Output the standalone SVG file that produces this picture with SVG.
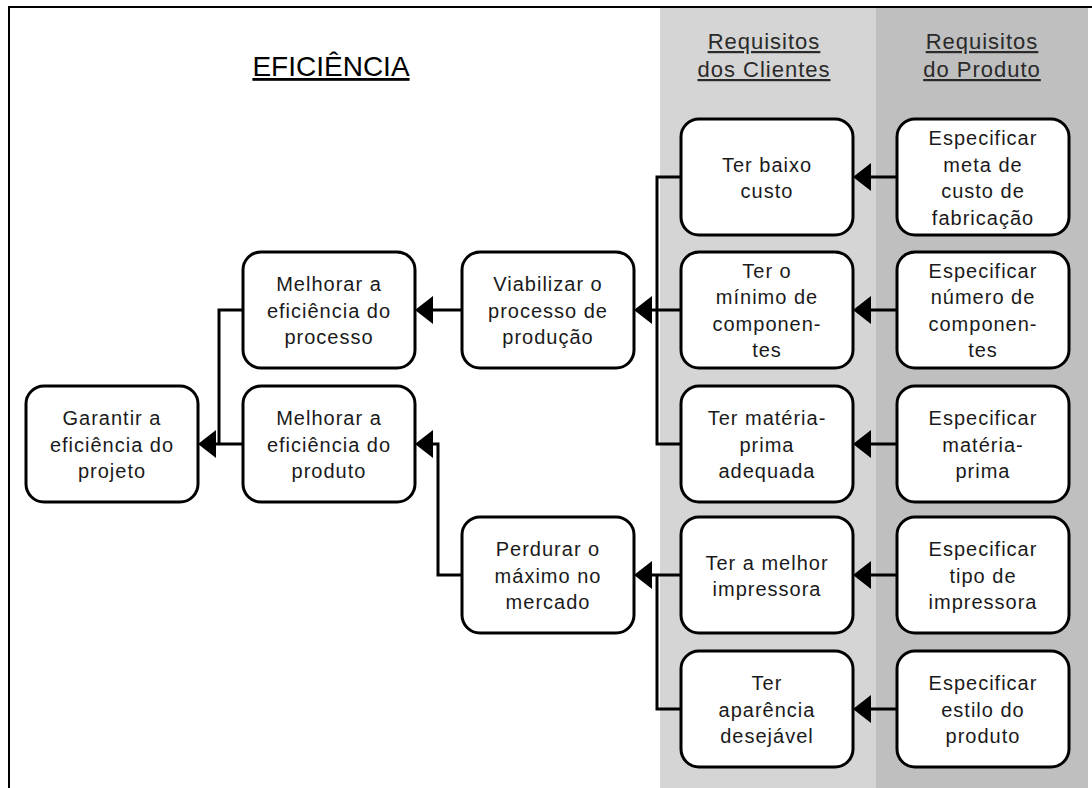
<svg xmlns="http://www.w3.org/2000/svg" width="1092" height="788" viewBox="0 0 1092 788">
  <style>
    .box { fill: #ffffff; stroke: #000000; stroke-width: 3; }
    .lbl { font-family: "Liberation Sans", Arial, sans-serif; font-size: 20px; letter-spacing: 1px; fill: #1a1a1a; text-anchor: middle; }
    .hdr { font-family: "Liberation Sans", Arial, sans-serif; font-size: 22px; letter-spacing: 1px; fill: #2a2a2a; text-anchor: middle; text-decoration: underline; }
    .title { font-family: "Liberation Sans", Arial, sans-serif; font-size: 28px; fill: #000000; text-anchor: middle; text-decoration: underline; }
    .wire { fill: none; stroke: #000000; stroke-width: 3; }
    .arrow { marker-end: url(#head); }
  </style>
  <defs>
    <marker id="head" viewBox="0 0 18 28" refX="10" refY="14" markerWidth="18" markerHeight="28" markerUnits="userSpaceOnUse" orient="auto">
      <path d="M0,0 L18,14 L0,28 Z" fill="#000000"/>
    </marker>
  </defs>

  <!-- page background and column bands -->
  <rect x="0" y="0" width="1092" height="788" fill="#ffffff"/>
  <rect x="660" y="8" width="216" height="780" fill="#d5d5d5"/>
  <rect x="876" y="8" width="212" height="780" fill="#bfbfbf"/>
  <line x1="9" y1="7" x2="1092" y2="7" stroke="#000" stroke-width="2"/>
  <line x1="9" y1="6" x2="9" y2="788" stroke="#000" stroke-width="2"/>

  <!-- headings -->
  <g id="headings">
    <text class="title" x="331" y="76">EFICIÊNCIA</text>
    <text class="hdr" x="764" y="49">Requisitos</text>
    <text class="hdr" x="764" y="77">dos Clientes</text>
    <text class="hdr" x="982" y="49">Requisitos</text>
    <text class="hdr" x="982" y="77">do Produto</text>
  </g>

  <!-- connectors -->
  <g id="connectors">
    <path class="wire arrow" d="M897,177 H861"/>
    <path class="wire arrow" d="M897,310 H861"/>
    <path class="wire arrow" d="M897,444 H861"/>
    <path class="wire arrow" d="M897,575 H861"/>
    <path class="wire arrow" d="M897,709 H861"/>

    <path class="wire" d="M681,177 H657 V444 H681"/>
    <path class="wire arrow" d="M681,310 H642"/>

    <path class="wire" d="M681,709 H657 V575"/>
    <path class="wire arrow" d="M681,575 H642"/>

    <path class="wire arrow" d="M462,310 H423"/>

    <path class="wire arrow" d="M462,575 H438 V444 H423"/>

    <path class="wire" d="M243,310 H219 V444"/>
    <path class="wire arrow" d="M243,444 H206"/>
  </g>

  <!-- goal nodes -->
  <g id="garantir">
    <rect class="box" x="26" y="386" width="172" height="116" rx="18"/>
    <text class="lbl" x="112" y="425">Garantir a</text>
    <text class="lbl" x="112" y="452">eficiência do</text>
    <text class="lbl" x="112" y="478">projeto</text>
  </g>
  <g id="melhorar-processo">
    <rect class="box" x="243" y="252" width="172" height="116" rx="18"/>
    <text class="lbl" x="329" y="291">Melhorar a</text>
    <text class="lbl" x="329" y="318">eficiência do</text>
    <text class="lbl" x="329" y="344">processo</text>
  </g>
  <g id="melhorar-produto">
    <rect class="box" x="243" y="386" width="172" height="116" rx="18"/>
    <text class="lbl" x="329" y="425">Melhorar a</text>
    <text class="lbl" x="329" y="452">eficiência do</text>
    <text class="lbl" x="329" y="478">produto</text>
  </g>
  <g id="viabilizar">
    <rect class="box" x="462" y="252" width="172" height="116" rx="18"/>
    <text class="lbl" x="548" y="291">Viabilizar o</text>
    <text class="lbl" x="548" y="318">processo de</text>
    <text class="lbl" x="548" y="344">produção</text>
  </g>
  <g id="perdurar">
    <rect class="box" x="462" y="517" width="172" height="116" rx="18"/>
    <text class="lbl" x="548" y="556">Perdurar o</text>
    <text class="lbl" x="548" y="583">máximo no</text>
    <text class="lbl" x="548" y="609">mercado</text>
  </g>

  <!-- customer requirements -->
  <g id="baixo-custo">
    <rect class="box" x="681" y="119" width="172" height="116" rx="18"/>
    <text class="lbl" x="767" y="172">Ter baixo</text>
    <text class="lbl" x="767" y="198">custo</text>
  </g>
  <g id="minimo-componentes">
    <rect class="box" x="681" y="252" width="172" height="116" rx="18"/>
    <text class="lbl" x="767" y="278">Ter o</text>
    <text class="lbl" x="767" y="304">mínimo de</text>
    <text class="lbl" x="767" y="331">componen-</text>
    <text class="lbl" x="767" y="357">tes</text>
  </g>
  <g id="materia-prima">
    <rect class="box" x="681" y="386" width="172" height="116" rx="18"/>
    <text class="lbl" x="767" y="425">Ter matéria-</text>
    <text class="lbl" x="767" y="452">prima</text>
    <text class="lbl" x="767" y="478">adequada</text>
  </g>
  <g id="melhor-impressora">
    <rect class="box" x="681" y="517" width="172" height="116" rx="18"/>
    <text class="lbl" x="767" y="570">Ter a melhor</text>
    <text class="lbl" x="767" y="596">impressora</text>
  </g>
  <g id="aparencia">
    <rect class="box" x="681" y="651" width="172" height="116" rx="18"/>
    <text class="lbl" x="767" y="690">Ter</text>
    <text class="lbl" x="767" y="717">aparência</text>
    <text class="lbl" x="767" y="743">desejável</text>
  </g>

  <!-- product requirements -->
  <g id="meta-custo">
    <rect class="box" x="897" y="119" width="172" height="116" rx="18"/>
    <text class="lbl" x="983" y="145">Especificar</text>
    <text class="lbl" x="983" y="172">meta de</text>
    <text class="lbl" x="983" y="198">custo de</text>
    <text class="lbl" x="983" y="225">fabricação</text>
  </g>
  <g id="numero-componentes">
    <rect class="box" x="897" y="252" width="172" height="116" rx="18"/>
    <text class="lbl" x="983" y="278">Especificar</text>
    <text class="lbl" x="983" y="304">número de</text>
    <text class="lbl" x="983" y="331">componen-</text>
    <text class="lbl" x="983" y="357">tes</text>
  </g>
  <g id="especificar-materia">
    <rect class="box" x="897" y="386" width="172" height="116" rx="18"/>
    <text class="lbl" x="983" y="425">Especificar</text>
    <text class="lbl" x="983" y="452">matéria-</text>
    <text class="lbl" x="983" y="478">prima</text>
  </g>
  <g id="tipo-impressora">
    <rect class="box" x="897" y="517" width="172" height="116" rx="18"/>
    <text class="lbl" x="983" y="556">Especificar</text>
    <text class="lbl" x="983" y="583">tipo de</text>
    <text class="lbl" x="983" y="609">impressora</text>
  </g>
  <g id="estilo-produto">
    <rect class="box" x="897" y="651" width="172" height="116" rx="18"/>
    <text class="lbl" x="983" y="690">Especificar</text>
    <text class="lbl" x="983" y="717">estilo do</text>
    <text class="lbl" x="983" y="743">produto</text>
  </g>
</svg>
